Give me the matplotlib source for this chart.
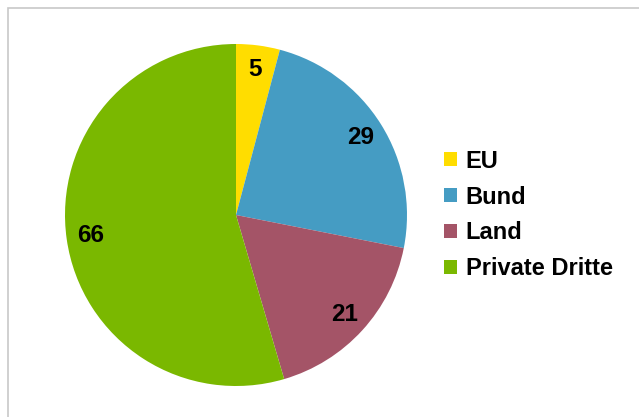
import matplotlib.pyplot as plt
from matplotlib.patches import Rectangle

plt.rcParams['font.family'] = ['Liberation Sans', 'DejaVu Sans']

labels = ['EU', 'Bund', 'Land', 'Private Dritte']
values = [5, 29, 21, 66]
colors = ['#FFDD00', '#459CC3', '#A45467', '#7AB800']

fig = plt.figure(figsize=(6.39, 4.17), dpi=100)

# thin grey frame, only top and left edges visible
fig.patches.append(Rectangle((8 / 639, -0.1), 1.2, (417 - 8) / 417 + 0.1,
                             transform=fig.transFigure, fill=False,
                             edgecolor='#c8c8c8', linewidth=1.2))

r = 171
cx, cy = 236, 417 - 215
ax = fig.add_axes([(cx - r) / 639, (cy - r) / 417, 2 * r / 639, 2 * r / 417])
total = sum(values)
wedges, texts, autotexts = ax.pie(
    values, colors=colors, startangle=90, counterclock=False,
    autopct=lambda p: '%d' % round(p * total / 100), pctdistance=0.86,
    textprops=dict(fontsize=17.5, fontweight='bold', color='black'))
ax.set_xlim(-1, 1)
ax.set_ylim(-1, 1)
ax.set_aspect('equal')

fig.legend(wedges, labels, loc='center left', bbox_to_anchor=(423 / 639, 1 - 215 / 417),
           frameon=False, prop=dict(size=17, weight='bold'),
           handlelength=0.56, handleheight=0.56, handletextpad=0.35,
           labelspacing=0.55)

fig.savefig('out.png', dpi=100)
